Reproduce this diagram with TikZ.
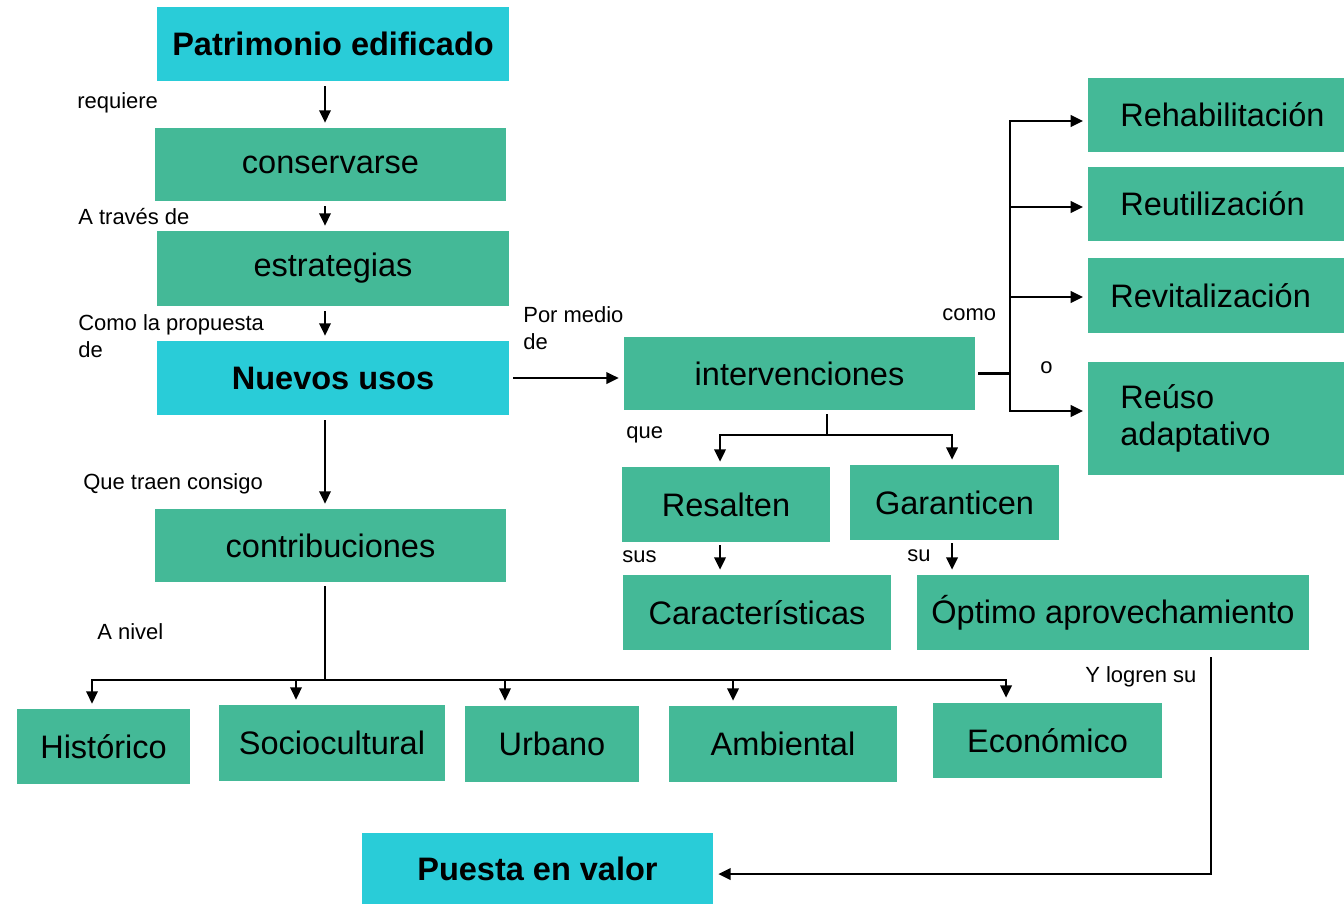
\documentclass[tikz,border=0pt]{standalone}
\usepackage{fontspec}
\setmainfont{Liberation Sans}
\usetikzlibrary{arrows.meta}
\definecolor{cyanbox}{RGB}{41,204,216}
\definecolor{greenbox}{RGB}{68,185,151}
\begin{document}
\begin{tikzpicture}[x=0.02cm,y=-0.02cm]
 \tikzset{box/.style={fill=greenbox, inner sep=0pt, font=\fontsize{18.5}{21.5}\selectfont},
  keybox/.style={box, fill=cyanbox, font=\fontsize{18.5}{21.5}\selectfont\bfseries},
  sidebox/.style={box, anchor=west, inner xsep=0.64cm, text width=3.84cm, align=left, font={\fontsize{18.5}{21.5}\selectfont\hyphenpenalty10000\relax}},
  lbl/.style={inner sep=0pt, anchor=west, align=left, font=\fontsize{12.5}{15.3}\selectfont},
  line/.style={line width=1.3pt},
  directed/.style={line, -{Triangle[length=7pt,width=6.5pt]}, shorten >=0.1cm}}
 \useasboundingbox (0,0) rectangle (1344,904);
  \node[keybox, minimum width=7.04cm, minimum height=1.48cm] (patr) at (333,44) {Patrimonio edificado};
  \node[box, minimum width=7.02cm, minimum height=1.46cm] (cons) at (330.5,164.5) {conservarse};
  \node[box, minimum width=7.04cm, minimum height=1.5cm] (estr) at (333,268.5) {estrategias};
  \node[keybox, minimum width=7.04cm, minimum height=1.48cm] (nuevos) at (333,378) {Nuevos usos};
  \node[box, minimum width=7.02cm, minimum height=1.46cm] (contrib) at (330.5,545.5) {contribuciones};
  \node[box, minimum width=7.02cm, minimum height=1.46cm] (interv) at (799.5,373.5) {intervenciones};
  \node[sidebox, minimum height=1.48cm] (rehab) at (1088,115) {Rehabilitación};
  \node[sidebox, minimum height=1.48cm] (reutil) at (1088,204) {Reutilización};
  \node[sidebox, minimum height=1.5cm, inner xsep=0.44cm, text width=4.24cm] (revital) at (1088,295.5) {Revitalización};
  \node[sidebox, minimum height=2.26cm] (reuso) at (1088,418.5) {Reúso\\adaptativo};
  \node[box, minimum width=4.16cm, minimum height=1.5cm] (resalten) at (726,504.5) {Resalten};
  \node[box, minimum width=4.18cm, minimum height=1.5cm] (garant) at (954.5,502.5) {Garanticen};
  \node[box, minimum width=5.36cm, minimum height=1.5cm] (caract) at (757,612.5) {Características};
  \node[box, minimum width=7.84cm, minimum height=1.5cm] (optimo) at (1113,612.5) {Óptimo aprovechamiento};
  \node[box, minimum width=3.46cm, minimum height=1.5cm] (hist) at (103.5,746.5) {Histórico};
  \node[box, minimum width=4.52cm, minimum height=1.52cm] (socio) at (332,743) {Sociocultural};
  \node[box, minimum width=3.48cm, minimum height=1.52cm] (urbano) at (552,744) {Urbano};
  \node[box, minimum width=4.56cm, minimum height=1.52cm] (ambient) at (783,744) {Ambiental};
  \node[box, minimum width=4.58cm, minimum height=1.5cm] (econ) at (1047.5,740.5) {Económico};
  \node[keybox, minimum width=7.02cm, minimum height=1.42cm] (puesta) at (537.5,868.5) {Puesta en valor};
  \node[lbl] (lreq) at (77,103) {requiere};
  \node[lbl] (ltrav) at (78,217) {A través de};
  \node[lbl] (lprop) at (78,336.5) {Como la propuesta\\de};
  \node[lbl] (lmedio) at (523,328) {Por medio\\de};
  \node[lbl] (lcomo) at (942,315) {como};
  \node[lbl] (lo) at (1040,368) {o};
  \node[lbl] (lque) at (626,435) {que};
  \node[lbl] (ltraen) at (83,484) {Que traen consigo};
  \node[lbl] (lsus) at (622,557) {sus};
  \node[lbl] (lsu) at (907,556) {su};
  \node[lbl] (lnivel) at (97,632) {A nivel};
  \node[lbl] (llogren) at (1085,677) {Y logren su};
  \coordinate (col) at (325,0);
  \draw[directed, shorten <=0.1cm] (patr.south -| col) -- (cons.north -| col);
  \draw[directed, shorten <=0.1cm] (cons.south -| col) -- (estr.north -| col);
  \draw[directed, shorten <=0.1cm] (estr.south -| col) -- (nuevos.north -| col);
  \draw[directed, shorten <=0.1cm] (nuevos.south -| col) -- (contrib.north -| col);
  \draw[directed, shorten <=0.08cm] (nuevos.east) -- (nuevos.east -| interv.west);
  \coordinate (fork) at (1010,373.5);
  \draw[line, shorten <=0.06cm] (interv.east) -- (fork);
  \foreach \n/\y in {rehab/121, reutil/207, revital/297, reuso/411}
    \draw[directed] (fork) |- (\n.west |- 0,\y);
  \coordinate (split) at (827,435);
  \draw[line, shorten <=0.08cm] (interv.south -| split) -- (split);
  \draw[directed] (split) -| (720,0 |- resalten.north);
  \draw[directed] (split) -| (952,0 |- garant.north);
  \draw[directed, shorten <=0.06cm] (720,0 |- resalten.south) -- (720,0 |- caract.north);
  \draw[directed, shorten <=0.06cm] (952,0 |- garant.south) -- (952,0 |- optimo.north);
  \coordinate (bus) at (325,680);
  \draw[line, shorten <=0.08cm] (contrib.south -| bus) -- (bus);
  \foreach \n/\x in {hist/92, socio/296, urbano/505, ambient/733, econ/1006}
    \draw[directed] (bus) -| (\x,0 |- \n.north);
  \coordinate (turn) at (1211,874);
  \draw[directed, shorten <=0.14cm] (optimo.south -| turn) -- (turn) -- (turn -| puesta.east);
\end{tikzpicture}
\end{document}
